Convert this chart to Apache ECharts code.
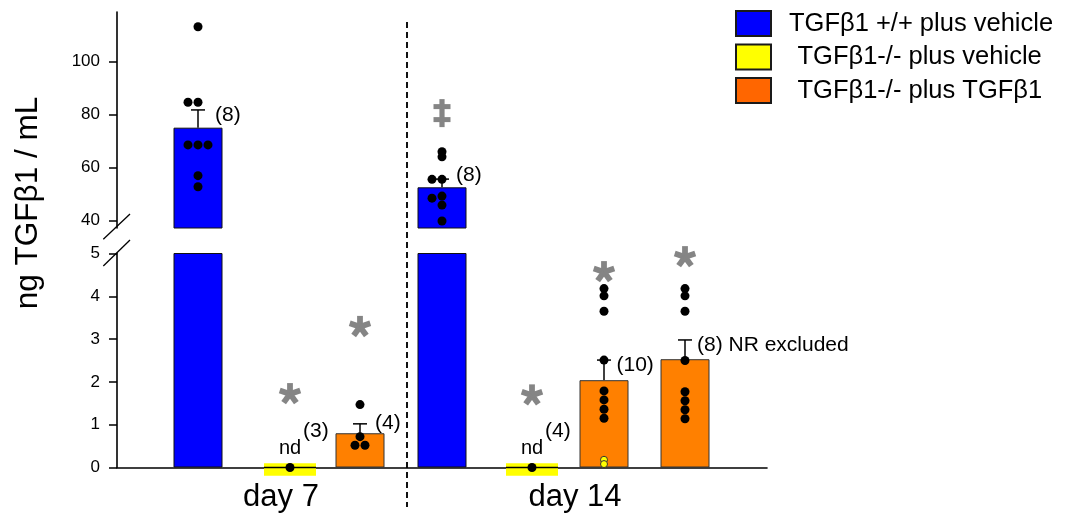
<!DOCTYPE html>
<html>
<head>
<meta charset="utf-8">
<script src="https://cdn.jsdelivr.net/npm/echarts@6/dist/echarts.min.js"></script>
<style>
  html, body { margin: 0; padding: 0; background: #fff; }
  #chart { width: 1074px; height: 518px; }
</style>
</head>
<body>
<div id="chart"></div>
<script>
// ---- data -------------------------------------------------------------
const seriesNames = ['TGF\u03B21 +/+ plus vehicle', 'TGF\u03B21-/- plus vehicle', 'TGF\u03B21-/- plus TGF\u03B21'];
const dayLabels = ['day 7', 'day 14'];

// bar positions along the shared x scale (day 7 group, then day 14 group)
const wildSlots = [8.1, 32.5];
const nullSlots = [17.3, 41.5];
const rescueSlots = [24.3, 48.7, 56.8];
const dayLabelSlots = [16.4, 45.8];
const daySeparator = 29.0;

// TGF-beta1 +/+ plus vehicle (ng/mL): mean, mean + SEM, n
const wildMeans = [75.1, 52.6];
const wildSemTops = [81.8, 55.7];
const wildN = ['(8)', '(8)'];
const wildPoints = [
  [113.2, 84.7, 84.7, 68.6, 68.6, 68.6, 57.0, 52.8],
  [66.0, 64.1, 55.6, 55.6, 49.3, 48.5, 45.9, 39.9]
];
const wildLanes = [
  [0, -1, 0, -1, 0, 1, 0, 0],
  [0, 0, -1, 0, 0, -1, 0, 0]
];

// TGF-beta1 -/- plus vehicle: not detected
const nullMeans = [0, 0];
const nullN = ['(3)', '(4)'];
const nullPoints = [[0], [0]];

// TGF-beta1 -/- plus TGF-beta1
const rescueMeans = [0.80, 2.04, 2.53];
const rescueSemTops = [1.02, 2.51, 2.98];
const rescueN = ['(4)', '(10)', '(8) NR excluded'];
const rescuePoints = [
  [1.47, 0.72, 0.52, 0.52],
  [4.18, 4.01, 3.65, 2.51, 1.79, 1.58, 1.36, 1.15],
  [4.18, 4.01, 3.65, 2.50, 1.77, 1.56, 1.35, 1.14]
];
const rescueLanes = [
  [0, 0, -0.5, 0.5],
  [0, 0, 0, 0, 0, 0, 0, 0],
  [0, 0, 0, 0, 0, 0, 0, 0]
];
// non-responders in the day 14 rescue group (group index 1)
const nonResponderPoints = [0.18, 0.08];

// significance marks: asterisks (lower panel) and double dagger (upper panel)
const asteriskSlots = [nullSlots[0], rescueSlots[0], nullSlots[1], rescueSlots[1], rescueSlots[2]];
const asteriskLevels = [1.72, 3.29, 1.69, 4.57, 4.92];
const daggerSlots = [wildSlots[1]];
const daggerLevels = [80.6];

const upperTicks = [40, 60, 80, 100];

// ---- styling / layout -------------------------------------------------
const FONT = '"Liberation Sans", Arial, Helvetica, sans-serif';
const BLUE = '#0000FF', YELLOW = '#FFFF00', ORANGE = '#FF8000', ORANGE_KEY = '#FF6600';
const GRAY = '#858585';
const LANE = 1.0;            // x-units between jittered dots
const BAR_W = 49;
const wildLabelOffsets = [[17, 5], [14, -4]];
const rescueLabelOffsets = [[15, -1], [12.5, 5], [12, 5]];

function jitter(slots, groups, lanes) {
  const out = [];
  groups.forEach((vals, g) => vals.forEach((v, i) => out.push([slots[g] + (lanes ? lanes[g][i] : 0) * LANE, v])));
  return out;
}

function textEl(x, y, text, size, align) {
  return {
    type: 'text', x: x, y: y,
    style: {
      text: text, fontSize: size, fontFamily: FONT, fill: '#000',
      align: align || 'left', verticalAlign: 'middle',
      textAlign: align || 'left', textVerticalAlign: 'middle'
    }
  };
}

function makeErrRender(labels, offsets) {
  return function (params, api) {
    const x = api.value(0);
    const a = api.coord([x, api.value(1)]);
    const b = api.coord([x, api.value(2)]);
    const i = params.dataIndex;
    const ln = { stroke: '#000', lineWidth: 1.5 };
    return {
      type: 'group',
      children: [
        { type: 'line', shape: { x1: a[0], y1: a[1], x2: b[0], y2: b[1] }, style: ln },
        { type: 'line', shape: { x1: b[0] - 7, y1: b[1], x2: b[0] + 7, y2: b[1] }, style: ln },
        textEl(b[0] + offsets[i][0], b[1] + offsets[i][1], labels[i], 21)
      ]
    };
  };
}

function renderNull(params, api) {
  const p = api.coord([api.value(0), api.value(1)]);
  const i = params.dataIndex;
  return {
    type: 'group',
    children: [
      { type: 'rect', shape: { x: p[0] - 26, y: p[1] - 4.2, width: 52, height: 12.4 }, style: { fill: YELLOW } },
      { type: 'line', shape: { x1: p[0] - 26, y1: p[1], x2: p[0] + 26, y2: p[1] }, style: { stroke: '#000', lineWidth: 1.5 } },
      textEl(p[0], p[1] - 19, 'nd', 20, 'center'),
      textEl(p[0] + 13, p[1] - 36, nullN[i], 21)
    ]
  };
}

function renderAsterisk(params, api) {
  const p = api.coord([api.value(0), api.value(1)]);
  const arms = [];
  for (let k = 0; k < 5; k++) {
    arms.push({
      type: 'rect', x: p[0], y: p[1], rotation: k * 2 * Math.PI / 5,
      shape: { x: -2.9, y: -10.8, width: 5.8, height: 10.8 },
      style: { fill: GRAY }
    });
  }
  return { type: 'group', children: arms };
}

function renderDagger(params, api) {
  const p = api.coord([api.value(0), api.value(1)]);
  const st = { fill: GRAY };
  return {
    type: 'group',
    children: [
      { type: 'rect', shape: { x: p[0] - 2.6, y: p[1] - 14, width: 5.2, height: 28 }, style: st },
      { type: 'rect', shape: { x: p[0] - 8.5, y: p[1] - 9, width: 17, height: 5 }, style: st },
      { type: 'rect', shape: { x: p[0] - 8.5, y: p[1] + 4, width: 17, height: 5 }, style: st }
    ]
  };
}

const axisLineStyle = { color: '#000', width: 1.6 };
const tickLabel = { color: '#000', fontSize: 17, fontFamily: FONT, margin: 17 };

const chart = echarts.init(document.getElementById('chart'), null, { renderer: 'canvas' });

const option = {
  backgroundColor: '#fff',
  animation: false,
  grid: [
    { left: 117, top: 12, width: 650, height: 216 },
    { left: 117, top: 253.5, width: 650, height: 214 }
  ],
  legend: {
    orient: 'vertical', left: 730, top: 5, padding: [5, 5, 5, 5],
    itemWidth: 35, itemHeight: 25, itemGap: 6.5,
    icon: 'rect', selectedMode: false,
    itemStyle: { borderColor: '#1a1a1a', borderWidth: 2 },
    textStyle: { fontSize: 25.5, fontFamily: FONT, color: '#000', lineHeight: 26 },
    data: [
      { name: seriesNames[0], textStyle: { padding: [0, 0, 0, 13] } },
      { name: seriesNames[1], textStyle: { padding: [0, 0, 0, 21.5] } },
      { name: seriesNames[2], textStyle: { padding: [0, 0, 0, 21.5] }, itemStyle: { color: ORANGE_KEY } }
    ]
  },
  xAxis: [
    { gridIndex: 0, type: 'value', min: 0, max: 65, show: false, splitLine: { show: false } },
    {
      gridIndex: 1, type: 'value', min: 0, max: 65,
      axisLine: { lineStyle: axisLineStyle },
      axisTick: { show: false },
      splitLine: { show: false },
      axisLabel: {
        customValues: dayLabelSlots,
        formatter: v => dayLabels[dayLabelSlots.indexOf(v)] || '',
        color: '#000', fontSize: 31, fontFamily: FONT, margin: 14, lineHeight: 31
      }
    }
  ],
  yAxis: [
    {
      gridIndex: 0, type: 'value', min: 37.25, max: 118.75,
      axisLine: { show: true, lineStyle: axisLineStyle },
      axisTick: { show: true, length: 8, lineStyle: { color: '#000', width: 1.5 }, customValues: upperTicks },
      axisLabel: Object.assign({ customValues: upperTicks }, tickLabel),
      splitLine: { show: false }
    },
    {
      gridIndex: 1, type: 'value', min: 0, max: 5, interval: 1,
      axisLine: { show: true, lineStyle: axisLineStyle },
      axisTick: { show: true, length: 8, lineStyle: { color: '#000', width: 1.5 } },
      axisLabel: tickLabel,
      splitLine: { show: false }
    }
  ],
  series: [
    {
      name: seriesNames[0], type: 'bar', xAxisIndex: 0, yAxisIndex: 0,
      barWidth: BAR_W, barGap: '-100%', clip: true,
      itemStyle: { color: BLUE, borderColor: '#111', borderWidth: 1 },
      data: wildSlots.map((s, i) => [s, wildMeans[i]])
    },
    {
      name: seriesNames[0], type: 'bar', xAxisIndex: 1, yAxisIndex: 1,
      barWidth: BAR_W, barGap: '-100%', clip: true,
      itemStyle: { color: BLUE, borderColor: '#111', borderWidth: 1 },
      data: wildSlots.map((s, i) => [s, wildMeans[i]])
    },
    {
      name: seriesNames[2], type: 'bar', xAxisIndex: 1, yAxisIndex: 1,
      barWidth: BAR_W, barGap: '-100%',
      itemStyle: { color: ORANGE, borderColor: '#333', borderWidth: 1 },
      data: rescueSlots.map((s, i) => [s, rescueMeans[i]])
    },
    {
      name: seriesNames[1], type: 'custom', xAxisIndex: 1, yAxisIndex: 1,
      itemStyle: { color: YELLOW, borderColor: '#1a1a1a', borderWidth: 2 },
      renderItem: renderNull,
      data: nullSlots.map((s, i) => [s, nullMeans[i]])
    },
    {
      name: 'wild SEM', type: 'custom', xAxisIndex: 0, yAxisIndex: 0, clip: false,
      renderItem: makeErrRender(wildN, wildLabelOffsets),
      data: wildSlots.map((s, i) => [s, wildMeans[i], wildSemTops[i]])
    },
    {
      name: 'rescue SEM', type: 'custom', xAxisIndex: 1, yAxisIndex: 1, clip: false,
      renderItem: makeErrRender(rescueN, rescueLabelOffsets),
      data: rescueSlots.map((s, i) => [s, rescueMeans[i], rescueSemTops[i]])
    },
    {
      name: 'wild dots', type: 'scatter', xAxisIndex: 0, yAxisIndex: 0, clip: false,
      symbolSize: 9, itemStyle: { color: '#000', opacity: 1 },
      data: jitter(wildSlots, wildPoints, wildLanes)
    },
    {
      name: 'dots', type: 'scatter', xAxisIndex: 1, yAxisIndex: 1, clip: false,
      symbolSize: 9, itemStyle: { color: '#000', opacity: 1 },
      data: jitter(nullSlots, nullPoints).concat(jitter(rescueSlots, rescuePoints, rescueLanes))
    },
    {
      name: 'non-responders', type: 'scatter', xAxisIndex: 1, yAxisIndex: 1, clip: false,
      symbolSize: 7, itemStyle: { color: YELLOW, borderColor: '#333', borderWidth: 1, opacity: 1 },
      data: nonResponderPoints.map(v => [rescueSlots[1], v])
    },
    {
      name: 'asterisks', type: 'custom', xAxisIndex: 1, yAxisIndex: 1,
      renderItem: renderAsterisk,
      data: asteriskSlots.map((s, i) => [s, asteriskLevels[i]])
    },
    {
      name: 'dagger', type: 'custom', xAxisIndex: 0, yAxisIndex: 0,
      renderItem: renderDagger,
      data: daggerSlots.map((s, i) => [s, daggerLevels[i]])
    }
  ]
};

chart.setOption(option);

// separator between days, axis break marks and the y-axis title
const sepX = chart.convertToPixel({ xAxisIndex: 1 }, daySeparator);
const brk = { stroke: '#000', lineWidth: 1.3 };
chart.setOption({
  graphic: [
    { type: 'line', shape: { x1: sepX, y1: 22, x2: sepX, y2: 507 }, style: { stroke: '#111', lineWidth: 2, lineDash: [6, 4] } },
    { type: 'line', shape: { x1: 103.3, y1: 239.3, x2: 130, y2: 214 }, style: brk },
    { type: 'line', shape: { x1: 103.3, y1: 266, x2: 130, y2: 240 }, style: brk },
    {
      type: 'text', x: 28, y: 203, rotation: Math.PI / 2,
      style: {
        text: 'ng TGF\u03B21 / mL', fontSize: 31.5, fontFamily: FONT, fill: '#000',
        align: 'center', verticalAlign: 'middle', textAlign: 'center', textVerticalAlign: 'middle'
      }
    }
  ]
});
</script>
</body>
</html>
